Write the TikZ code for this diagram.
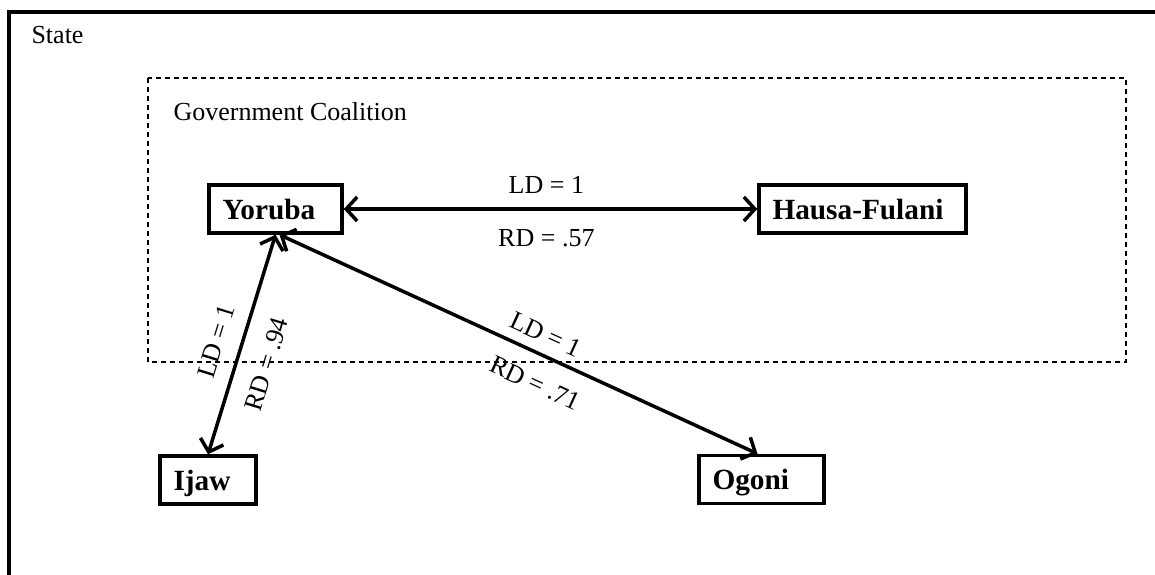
\documentclass[tikz,border=0pt]{standalone}
\usepackage{fontspec}
\setmainfont{Liberation Serif}
\usetikzlibrary{arrows.meta}
\begin{document}
\begin{tikzpicture}[x=1pt,y=-1pt,
  every node/.style={font=\fontsize{26}{30}\selectfont},
  actor/.style={draw, line width=3.5pt, font=\fontsize{29.3}{34}\selectfont\bfseries,
    minimum height=48pt, inner xsep=13.5pt, inner ysep=0pt, align=left,
    text height=20pt, text depth=0pt},
  link/.style={line width=3.5pt, {Straight Barb[length=11pt,width=24pt]}-{Straight Barb[length=11pt,width=24pt]}},
  lbl/.style={inner sep=0pt, sloped},
  frame/.style={line width=3.5pt},
  coalition/.style={line width=1.2pt, dash pattern=on 5pt off 4pt}]
\useasboundingbox (0,0) rectangle (1155,574);
\begin{scope}
\clip (0,0) rectangle (1155,574);
\draw[frame] (1170,12) -- (9,12) -- (9,590);
\end{scope}
\draw[coalition] (148,78) rectangle (1126,362);
\node[anchor=base west] (state) at (28,43) {State};
\node[anchor=base west] (coal) at (170,120) {Government Coalition};

\node[actor, text width=106pt] (yoruba) at (275.5,209) {Yoruba};
\node[actor, text width=180pt] (hausa) at (862.5,209) {Hausa-Fulani};
\node[actor, text width=69pt] (ijaw) at (208,480) {Ijaw};
\node[actor, text width=98pt] (ogoni) at (761.5,479.5) {Ogoni};

\draw[link] (yoruba.east) -- (hausa.west)
  node[lbl, pos=0.49, above=14pt] {LD = 1}
  node[lbl, pos=0.49, below=19pt] {RD = .57};
\draw[link] (ijaw.north) -- (yoruba.south)
  node[lbl, pos=0.48, above=15pt] {LD = 1}
  node[lbl, pos=0.45, below=19pt] {RD = .94};
\draw[link] ([xshift=4pt]yoruba.south) -- ([xshift=-4pt]ogoni.north)
  node[lbl, pos=0.54, above=10pt] {LD = 1}
  node[lbl, pos=0.56, below=18pt] {RD = .71};
\end{tikzpicture}
\end{document}
